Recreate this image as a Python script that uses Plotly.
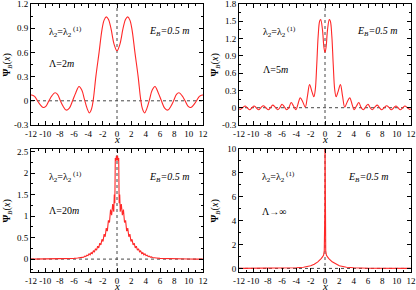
import plotly.graph_objects as go

# ---------------- data (curves are symmetric in x) ----------------
# Panel 1: Lambda = 2m   (right half, x >= 0)
x1_half = [0, 0.4, 0.85, 1.2, 1.5, 1.8, 2.1, 2.5, 2.95, 3.3, 3.55, 3.85, 4.15, 4.55, 4.9, 5.3,
           5.75, 6.2, 6.65, 7.1, 7.5, 7.9, 8.3, 8.65, 9.1, 9.5, 9.9, 10.3, 10.7, 11.1, 11.5, 11.9, 12]
y1_half = [0.62, 0.7, 0.9, 1.01, 1.04, 1.0, 0.88, 0.6, 0.3, 0.02, -0.1, -0.15, -0.1, 0.02, 0.13, 0.178,
           0.1, 0.0, -0.09, -0.115, -0.07, 0.0, 0.08, 0.1, 0.06, 0.0, -0.065, -0.083, -0.05, 0.0, 0.055, 0.072, 0.07]

# Panel 2: Lambda = 5m
x2_half = [0, 0.15, 0.35, 0.6, 0.75, 0.95, 1.15, 1.35, 1.55, 1.8, 2.15, 2.45, 2.75, 3.1, 3.45, 3.8,
           4.05, 4.4, 4.72, 5.05, 5.35, 5.7, 6.0, 6.3, 6.6, 6.95, 7.3, 7.6, 7.9, 8.25, 8.6, 8.95,
           9.25, 9.6, 9.9, 10.2, 10.5, 10.85, 11.15, 11.5, 11.8, 12]
y2_half = [0.96, 1.05, 1.35, 1.53, 1.5, 1.25, 0.75, 0.32, 0.19, 0.27, 0.4, 0.2, 0.01, 0.1, 0.17, 0.05,
           -0.035, 0.03, 0.09, 0.0, -0.035, 0.02, 0.06, 0.0, -0.035, 0.01, 0.045, 0.0, -0.035, 0.0, 0.035, 0.0,
           -0.035, 0.0, 0.03, 0.0, -0.035, 0.0, 0.03, 0.0, -0.03, -0.02]

# Panel 3: Lambda = 20m (fast oscillating, decaying)
x3_half = [0, 0.08, 0.16, 0.24, 0.3, 0.38, 0.45, 0.6, 0.75, 0.9, 1.05, 1.2, 1.35, 1.5, 1.65, 1.8,
           1.95, 2.1, 2.25, 2.4, 2.55, 2.7, 2.85, 3.0, 3.15, 3.3, 3.45, 3.6, 3.75, 3.9, 4.05, 4.2,
           4.35, 4.5, 4.65, 4.8, 4.95, 5.1, 5.5, 6, 7, 8, 9, 10, 11, 12]
y3_half = [2.3, 2.4, 2.28, 2.35, 1.3, 1.5, 1.1, 1.28, 1.02, 1.15, 0.85, 0.9, 0.65, 0.72, 0.52, 0.58,
           0.41, 0.46, 0.33, 0.37, 0.26, 0.3, 0.21, 0.24, 0.17, 0.19, 0.13, 0.15, 0.1, 0.12, 0.08, 0.09,
           0.06, 0.07, 0.045, 0.05, 0.035, 0.037, 0.025, 0.016, 0.008, 0.004, 0.002, 0.001, 0.0, 0.0]

# Panel 4: Lambda -> infinity
x4_half = [0, 0.02, 0.05, 0.1, 0.2, 0.5, 1, 1.5, 2, 3, 4, 6, 8, 10, 12]
y4_half = [12, 5, 2.5, 1.5, 1.1, 0.85, 0.55, 0.35, 0.22, 0.1, 0.05, 0.015, 0.005, 0.001, 0.0]

x_ticks = [-12, -10, -8, -6, -4, -2, 0, 2, 4, 6, 8, 10, 12]
x_tick_text = ["-12", "-10", "-8", "-6", "-4", "-2", "0", "2", "4", "6", "8", "10", "12"]
y1_ticks = [-0.3, 0, 0.3, 0.6, 0.9, 1.2]
y1_tick_text = ["-0.3", "0", "0.3", "0.6", "0.9", "1.2"]
y2_ticks = [-0.3, 0, 0.3, 0.6, 0.9, 1.2, 1.5, 1.8]
y2_tick_text = ["-0.3", "0", "0.3", "0.6", "0.9", "1.2", "1.5", "1.8"]
y3_ticks = [0, 0.5, 1, 1.5, 2, 2.5]
y3_tick_text = ["0", "0.5", "1", "1.5", "2", "2.5"]
y4_ticks = [0, 2, 4, 6, 8, 10]
y4_tick_text = ["0", "2", "4", "6", "8", "10"]

lambda_labels = ["Λ=2<i>m</i>", "Λ=5<i>m</i>", "Λ=20<i>m</i>", "Λ→∞"]


def mirror(xs, ys):
    xl = [-v for v in reversed(xs[1:])] + list(xs)
    yl = list(reversed(ys[1:])) + list(ys)
    return xl, yl


FONT = "Liberation Serif"
RED = "rgb(255,40,40)"

fig = go.Figure()

panels = [
    (x1_half, y1_half, "x", "y"),
    (x2_half, y2_half, "x2", "y2"),
    (x3_half, y3_half, "x3", "y3"),
    (x4_half, y4_half, "x4", "y4"),
]
for xs, ys, xa, ya in panels:
    xx, yy = mirror(xs, ys)
    fig.add_trace(go.Scatter(x=xx, y=yy, mode="lines", xaxis=xa, yaxis=ya,
                             line=dict(color=RED, width=1.1,
                                       shape="spline" if xa in ("x", "x2") else "linear"),
                             showlegend=False, hoverinfo="skip"))

W, H = 416, 290
xdom = [(31 / W, 203 / W), (239 / W, 411 / W)]
ydom = [(1 - 125 / H, 1 - 4 / H), (1 - 272 / H, 1 - 149 / H)]

yinfo = [
    ([-0.3001, 1.2001], y1_ticks, y1_tick_text, 0.15),
    ([-0.3001, 1.8001], y2_ticks, y2_tick_text, 0.15),
    ([-0.3, 2.56], y3_ticks, y3_tick_text, 0.25),
    ([-0.3, 10.001], y4_ticks, y4_tick_text, 1),
]

axis_common = dict(showline=True, linecolor="black", linewidth=1, mirror="allticks",
                   ticks="inside", ticklen=4, tickwidth=1, tickcolor="black",
                   showgrid=False, zeroline=False, automargin=False,
                   ticklabeloverflow="allow",
                   tickfont=dict(family=FONT, size=9, color="black"))

layout = dict(width=W, height=H, autosize=False, margin=dict(l=0, r=0, t=0, b=0, pad=0),
              paper_bgcolor="white", plot_bgcolor="white", showlegend=False)

for i in range(4):
    col = i % 2
    row = i // 2
    sfx = "" if i == 0 else str(i + 1)
    rng, tv, tt, mdt = yinfo[i]
    layout["xaxis" + sfx] = dict(axis_common, domain=list(xdom[col]), anchor="y" + sfx,
                                 range=[-12.001, 12.001], tickvals=x_ticks, ticktext=x_tick_text,
                                 minor=dict(ticks="inside", ticklen=2, dtick=1, tick0=0,
                                            tickcolor="black"))
    layout["yaxis" + sfx] = dict(axis_common, domain=list(ydom[row]), anchor="x" + sfx,
                                 range=rng, tickvals=tv, ticktext=tt,
                                 minor=dict(ticks="inside", ticklen=2, dtick=mdt, tick0=0,
                                            tickcolor="black"))

fig.update_layout(**layout)

shapes = []
annotations = []
for i in range(4):
    col = i % 2
    row = i // 2
    sfx = "" if i == 0 else str(i + 1)
    xa = "x" + sfx
    ya = "y" + sfx
    # dotted zero lines
    shapes.append(dict(type="line", xref=xa + " domain", yref=ya, x0=0, x1=1, y0=0, y1=0,
                       line=dict(color="rgb(70,70,70)", width=1, dash="dot"), layer="below"))
    shapes.append(dict(type="line", xref=xa, yref=ya + " domain", x0=0, x1=0, y0=0, y1=1,
                       line=dict(color="rgb(70,70,70)", width=1, dash="dot"), layer="below"))
    # text labels
    lx = [0.093, 0.126, 0.093, 0.12][i]
    ex = [0.674, 0.673, 0.674, 0.62][i]
    ly = [0.51, 0.46, 0.50, 0.49][i]
    annotations.append(dict(xref=xa + " domain", yref=ya + " domain", x=lx, y=0.77,
                            xanchor="left", yanchor="middle", showarrow=False,
                            text="λ<sub>2</sub>=λ<sub>2</sub><sup> (1)</sup>",
                            font=dict(family=FONT, size=10, color="black")))
    annotations.append(dict(xref=xa + " domain", yref=ya + " domain", x=ex, y=0.77,
                            xanchor="left", yanchor="middle", showarrow=False,
                            text="<i>E<sub>B</sub>=0.5 m</i>",
                            font=dict(family=FONT, size=10, color="black")))
    annotations.append(dict(xref=xa + " domain", yref=ya + " domain", x=lx, y=ly,
                            xanchor="left", yanchor="middle", showarrow=False,
                            text=lambda_labels[i],
                            font=dict(family=FONT, size=10, color="black")))
    # axis titles
    x0d, x1d = xdom[col]
    y0d, y1d = ydom[row]
    annotations.append(dict(xref="paper", yref="paper", x=(x0d + x1d) / 2,
                            y=y0d - 13.5 / H, xanchor="center", yanchor="middle", showarrow=False,
                            text="<i>x</i>", font=dict(family=FONT, size=11, color="black")))
    annotations.append(dict(xref="paper", yref="paper", x=x0d - 24 / W,
                            y=(y0d + y1d) / 2, xanchor="center", yanchor="middle", showarrow=False,
                            textangle=-90,
                            text="<b>Ψ</b><sub><i>B</i></sub>(<i>x</i>)",
                            font=dict(family=FONT, size=10, color="black")))

fig.update_layout(shapes=shapes, annotations=annotations)
fig.write_html("out.html", config={"displayModeBar": False},
               post_script="document.body.style.margin='0';document.body.style.overflow='hidden';")
